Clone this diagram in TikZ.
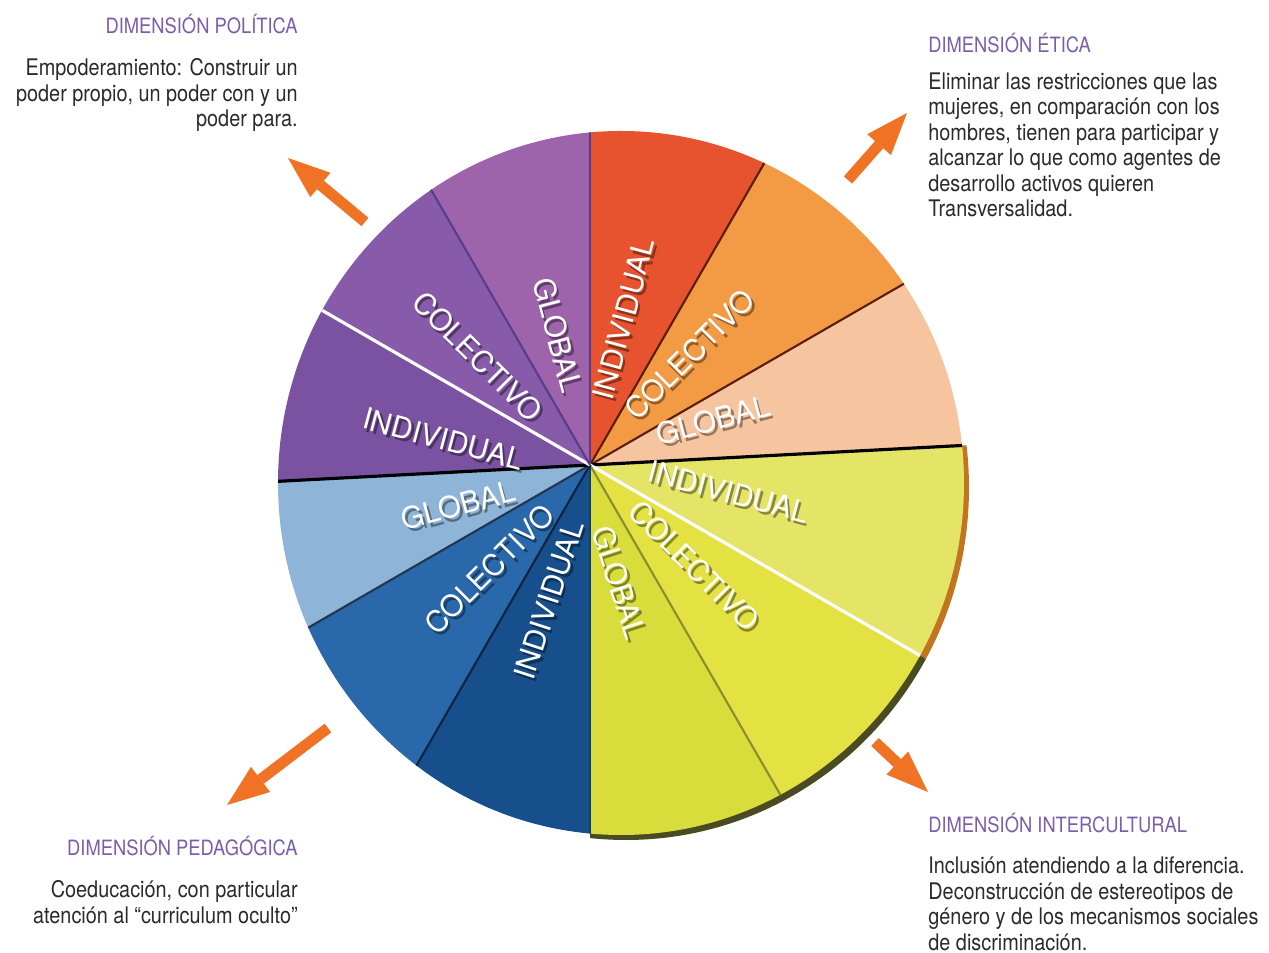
\documentclass[tikz,border=0pt]{standalone}
\usepackage{fontspec}
\setmainfont{TeX Gyre Heros}[FakeStretch=0.87]
\newfontfamily\wedgefont{TeX Gyre Heros}
\usepackage{tikz}
\usetikzlibrary{calc,positioning,arrows.meta}

\definecolor{titlepurple}{HTML}{7B5DAA}
\definecolor{bodygray}{HTML}{2A2A2A}
\definecolor{arroworange}{HTML}{F07224}
\definecolor{wRed}{HTML}{E8532F}
\definecolor{wOrange}{HTML}{F29A44}
\definecolor{wPeach}{HTML}{F7C4A0}
\definecolor{wLemon}{HTML}{E4E466}
\definecolor{wYellow}{HTML}{E4E243}
\definecolor{wLime}{HTML}{D9DD3B}
\definecolor{wNavy}{HTML}{164F8C}
\definecolor{wBlue}{HTML}{2968AB}
\definecolor{wSky}{HTML}{8EB5D8}
\definecolor{wViolet}{HTML}{7A52A1}
\definecolor{wPurple}{HTML}{875BA9}
\definecolor{wMauve}{HTML}{9E64AB}
\definecolor{rimOrange}{HTML}{C2741F}
\definecolor{rimOlive}{HTML}{4B4B22}

\begin{document}
\begin{tikzpicture}[x=0.02cm,y=0.02cm,
  title/.style={text=titlepurple,font=\fontsize{12}{14}\selectfont,inner sep=0pt},
  body/.style={text=bodygray,font=\fontsize{13}{14.5}\selectfont,inner sep=0pt},
  dimarrow/.style={arroworange,line width=6.2pt,
    -{Triangle[length=24pt,width=18pt,line width=0pt]}},
  wedgetext/.style={text=white,font=\wedgefont\fontsize{16.8}{18}\selectfont,inner sep=0pt},
  wedgeshadow/.style={xshift=1.4pt,yshift=-1.8pt,text=black,text opacity=0.4,
    font=\wedgefont\fontsize{16.8}{18}\selectfont,inner sep=0pt},
  sepdark/.style={line width=1.2pt},
  sepblack/.style={black,line width=1.8pt},
  sepwhite/.style={white,line width=1.8pt}]
\useasboundingbox (0,0) rectangle (1269,953);

% Pie centre and hub of the wedges
\coordinate (hub) at (590,488);
\coordinate (pie) at (621,470);
\pgfmathsetmacro{\rx}{343} % horizontal radius, px
\pgfmathsetmacro{\ry}{352} % vertical radius, px

% Rim under the yellow quarter
\begin{scope}
\clip (hub) -- +(3:800) -- +(-30:800) -- cycle;
\fill[rimOrange] ([shift={(5,-5)}]pie) ellipse ({\rx} and {\ry});
\end{scope}
\begin{scope}
\clip (hub) -- +(-30:800) -- +(-90:800) -- cycle;
\fill[rimOlive] ([shift={(5,-5)}]pie) ellipse ({\rx} and {\ry});
\end{scope}

% Wedges
\begin{scope}
\clip (pie) ellipse ({\rx} and {\ry});
\fill[wRed]    (hub) -- +(60:800)  -- +(90:800)  -- cycle;
\fill[wOrange] (hub) -- +(30:800)  -- +(60:800)  -- cycle;
\fill[wPeach]  (hub) -- +(3:800)   -- +(30:800)  -- cycle;
\fill[wLemon]  (hub) -- +(-30:800) -- +(3:800)   -- cycle;
\fill[wYellow] (hub) -- +(-60:800) -- +(-30:800) -- cycle;
\fill[wLime]   (hub) -- +(-90:800) -- +(-60:800) -- cycle;
\fill[wNavy]   (hub) -- +(-120:800) -- +(-90:800) -- cycle;
\fill[wBlue]   (hub) -- +(-150:800) -- +(-120:800) -- cycle;
\fill[wSky]    (hub) -- +(183:800) -- +(210:800) -- cycle;
\fill[wViolet] (hub) -- +(150:800) -- +(183:800) -- cycle;
\fill[wPurple] (hub) -- +(120:800) -- +(150:800) -- cycle;
\fill[wMauve]  (hub) -- +(90:800)  -- +(120:800) -- cycle;

% Separators
\draw[sepdark,color={rgb,255:red,90;green,58;blue,142}] (hub) -- +(90:800);
\draw[sepdark,color={rgb,255:red,90;green,30;blue,16}] (hub) -- +(60:800);
\draw[sepdark,color={rgb,255:red,90;green,30;blue,16}] (hub) -- +(30:800);
\draw[sepblack] (hub) -- +(3:800);
\draw[sepwhite] (hub) -- +(-30:800);
\draw[sepdark,color={rgb,255:red,140;green,140;blue,48}] (hub) -- +(-60:800);
\draw[sepdark,color={rgb,255:red,15;green,62;blue,120}] (hub) -- +(-90:800);
\draw[sepdark,color={rgb,255:red,14;green,36;blue,64}] (hub) -- +(-120:800);
\draw[sepdark,color={rgb,255:red,34;green,54;blue,79}] (hub) -- +(-150:800);
\draw[sepblack] (hub) -- +(183:800);
\draw[sepwhite] (hub) -- +(150:800);
\draw[sepdark,color={rgb,255:red,90;green,60;blue,140}] (hub) -- +(120:800);
\end{scope}

% Wedge labels, shadow first
\node[wedgeshadow,rotate=75]  (sIndOr) at ([shift={(77:150)}]hub) {INDIVIDUAL};
\node[wedgeshadow,rotate=45]  (sColOr) at ([shift={(48:149)}]hub) {COLECTIVO};
\node[wedgeshadow,rotate=15]  (sGloOr) at ([shift={(20:131)}]hub) {GLOBAL};
\node[wedgeshadow,rotate=-15] (sIndYe) at ([shift={(-11:141)}]hub) {INDIVIDUAL};
\node[wedgeshadow,rotate=-45] (sColYe) at ([shift={(-44:145)}]hub) {COLECTIVO};
\node[wedgeshadow,rotate=-72] (sGloYe) at ([shift={(-76:121)}]hub) {GLOBAL};
\node[wedgeshadow,rotate=72]  (sIndBl) at ([shift={(253:141)}]hub) {INDIVIDUAL};
\node[wedgeshadow,rotate=45]  (sColBl) at ([shift={(226:145)}]hub) {COLECTIVO};
\node[wedgeshadow,rotate=15]  (sGloBl) at ([shift={(197:138)}]hub) {GLOBAL};
\node[wedgeshadow,rotate=-15] (sIndPu) at ([shift={(170:149)}]hub) {INDIVIDUAL};
\node[wedgeshadow,rotate=-45] (sColPu) at ([shift={(136:156)}]hub) {COLECTIVO};
\node[wedgeshadow,rotate=-75] (sGloPu) at ([shift={(104:134)}]hub) {GLOBAL};

\node[wedgetext,rotate=75]  (indOr) at ([shift={(77:150)}]hub) {INDIVIDUAL};
\node[wedgetext,rotate=45]  (colOr) at ([shift={(48:149)}]hub) {COLECTIVO};
\node[wedgetext,rotate=15]  (gloOr) at ([shift={(20:131)}]hub) {GLOBAL};
\node[wedgetext,rotate=-15] (indYe) at ([shift={(-11:141)}]hub) {INDIVIDUAL};
\node[wedgetext,rotate=-45] (colYe) at ([shift={(-44:145)}]hub) {COLECTIVO};
\node[wedgetext,rotate=-72] (gloYe) at ([shift={(-76:121)}]hub) {GLOBAL};
\node[wedgetext,rotate=72]  (indBl) at ([shift={(253:141)}]hub) {INDIVIDUAL};
\node[wedgetext,rotate=45]  (colBl) at ([shift={(226:145)}]hub) {COLECTIVO};
\node[wedgetext,rotate=15]  (gloBl) at ([shift={(197:138)}]hub) {GLOBAL};
\node[wedgetext,rotate=-15] (indPu) at ([shift={(170:149)}]hub) {INDIVIDUAL};
\node[wedgetext,rotate=-45] (colPu) at ([shift={(136:156)}]hub) {COLECTIVO};
\node[wedgetext,rotate=-75] (gloPu) at ([shift={(104:134)}]hub) {GLOBAL};

% Arrows to the four dimensions
\coordinate (polTail) at (365,731);  \coordinate (polTip) at (288,795);
\coordinate (etiTail) at (848,773);  \coordinate (etiTip) at (907,840);
\coordinate (pedTail) at (328,225);  \coordinate (pedTip) at (227,148);
\coordinate (intTail) at (875,211);  \coordinate (intTip) at (928,161);
\draw[dimarrow] (polTail) -- (polTip);
\draw[dimarrow] (etiTail) -- (etiTip);
\draw[dimarrow] (pedTail) -- (pedTip);
\draw[dimarrow] (intTail) -- (intTip);

% Texts
\node[title,anchor=base east] (polTitle) at (298,919.5) {DIMENSIÓN POLÍTICA};
\node[body,align=right,below left=0.48cm and 0cm of polTitle.south east] (polText)
  {Empoderamiento: Construir un\\ poder propio, un poder con y un\\ poder para.};

\node[title,anchor=base west] (etiTitle) at (928,900.7) {DIMENSIÓN ÉTICA};
\node[body,align=left,below right=0.39cm and 0cm of etiTitle.south west] (etiText)
  {Eliminar las restricciones que las\\ mujeres, en comparación con los\\
   hombres, tienen para participar y\\ alcanzar lo que como agentes de\\
   desarrollo activos quieren\\ Transversalidad.};

\node[title,anchor=base east] (pedTitle) at (298,97.5) {DIMENSIÓN PEDAGÓGICA};
\node[body,align=right,below left=0.48cm and 0cm of pedTitle.south east] (pedText)
  {Coeducación, con particular\\ atención al “curriculum oculto”};

\node[title,anchor=base west] (intTitle) at (928,120) {DIMENSIÓN INTERCULTURAL};
\node[body,align=left,below right=0.46cm and 0cm of intTitle.south west] (intText)
  {Inclusión atendiendo a la diferencia.\\ Deconstrucción de estereotipos de\\
   género y de los mecanismos sociales\\ de discriminación.};
\end{tikzpicture}
\end{document}
